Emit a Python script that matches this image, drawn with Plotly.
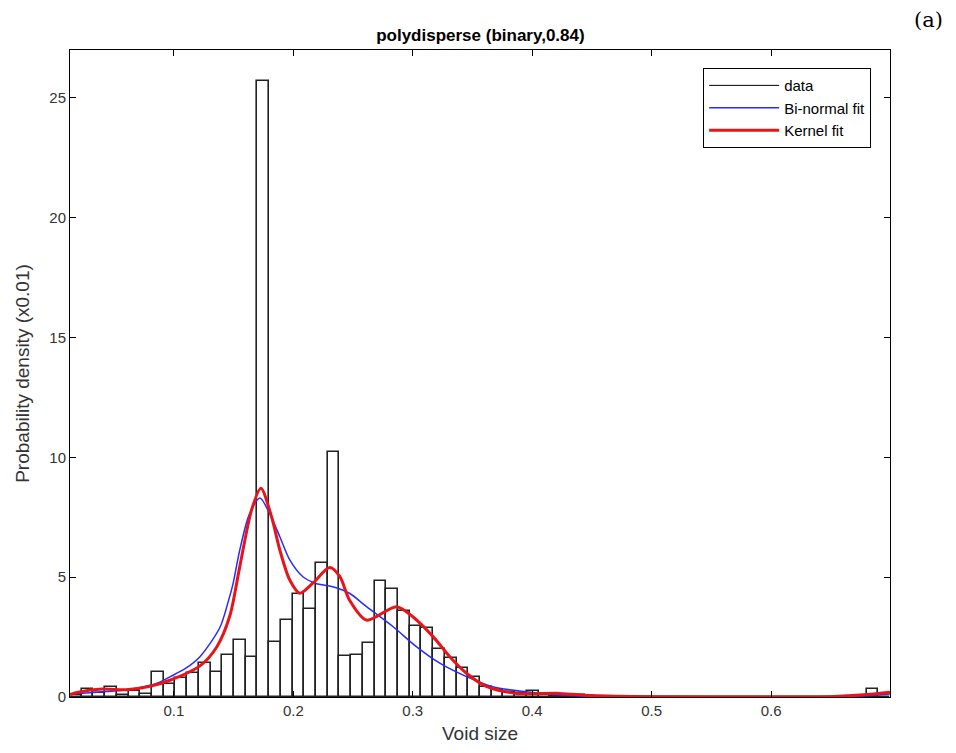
import plotly.graph_objects as go

# ---- data ----
x_min = 0.0130
x_max = 0.6996
n_bins = 70
bin_w = (x_max - x_min) / n_bins
bin_centers = [x_min + bin_w * (k + 0.5) for k in range(n_bins)]

counts = [0.1, 0.32, 0.18, 0.4, 0.1, 0.26, 0.12, 1.06, 0.55, 0.78,
          0.99, 1.43, 1.06, 1.75, 2.38, 1.66, 25.7, 2.31, 3.21, 4.28,
          3.66, 5.58, 10.22, 1.71, 1.77, 2.24, 4.86, 4.49, 3.58, 2.96,
          2.9, 2.0, 1.61, 1.2, 0.85, 0.4, 0.3, 0.2, 0.15, 0.25,
          0.1, 0.05, 0.0, 0.1, 0.0, 0.0, 0.0, 0.0, 0.0, 0.0,
          0.0, 0.0, 0.0, 0.0, 0.0, 0.0, 0.0, 0.0, 0.0, 0.0,
          0.0, 0.0, 0.0, 0.0, 0.0, 0.0, 0.0, 0.0, 0.35, 0.0]

binorm_x = [0.013, 0.03, 0.05, 0.07, 0.085, 0.097, 0.11, 0.1218, 0.1385, 0.1456,
            0.1494, 0.155, 0.163, 0.172, 0.180, 0.1887, 0.197, 0.208, 0.219, 0.233,
            0.247, 0.2613, 0.2836, 0.303, 0.3226, 0.345, 0.367, 0.395, 0.423, 0.45,
            0.5, 0.6, 0.66, 0.69, 0.6996]
binorm_y = [0.12, 0.18, 0.25, 0.38, 0.55, 0.85, 1.2, 1.68, 2.9, 4.0,
            4.7, 6.1, 7.6, 8.3, 7.67, 6.69, 5.72, 5.02, 4.74, 4.6,
            4.33, 3.77, 2.93, 2.1, 1.41, 0.85, 0.43, 0.22, 0.08, 0.03,
            0.0, 0.0, 0.02, 0.08, 0.12]

kernel_x = [0.013, 0.02, 0.04, 0.06, 0.08, 0.0967, 0.1218, 0.136, 0.1469, 0.155,
            0.165, 0.1728, 0.1817, 0.1887, 0.197, 0.2054, 0.2163, 0.2305, 0.239, 0.247,
            0.2613, 0.2863, 0.3, 0.317, 0.331, 0.345, 0.362, 0.387, 0.423, 0.45,
            0.5, 0.6, 0.65, 0.68, 0.6996]
kernel_y = [0.1, 0.2, 0.33, 0.3, 0.45, 0.7, 1.3, 2.1, 3.4, 5.4,
            7.8, 8.71, 7.53, 6.13, 4.88, 4.33, 4.75, 5.4, 5.02, 4.05,
            3.21, 3.77, 3.35, 2.52, 1.68, 0.99, 0.43, 0.15, 0.15, 0.06,
            0.01, 0.0, 0.01, 0.1, 0.2]

x_ticks = [0.1, 0.2, 0.3, 0.4, 0.5, 0.6]
y_ticks = [0, 5, 10, 15, 20, 25]

FONT = "Liberation Sans, Arial, sans-serif"

fig = go.Figure()
fig.add_trace(go.Bar(x=bin_centers, y=counts, width=bin_w,
                     marker=dict(color="white", line=dict(color="#222", width=1.6)),
                     showlegend=False, name="data"))
fig.add_trace(go.Scatter(x=[None], y=[None], mode="lines", name="data",
                         line=dict(color="black", width=1)))
fig.add_trace(go.Scatter(x=binorm_x, y=binorm_y, mode="lines", name="Bi-normal fit",
                         line=dict(color="#2a2aff", width=1.5, shape="spline", smoothing=0.8)))
fig.add_trace(go.Scatter(x=kernel_x, y=kernel_y, mode="lines", name="Kernel fit",
                         line=dict(color="#e8141a", width=3, shape="spline", smoothing=0.8)))

axis_common = dict(showline=True, linecolor="black", linewidth=1, mirror="ticks",
                   ticks="inside", ticklen=6, tickcolor="black", showgrid=False,
                   zeroline=False, tickfont=dict(family=FONT, size=15, color="#333"))

fig.update_xaxes(range=[x_min, x_max], tickvals=x_ticks,
                 title=dict(text="Void size", font=dict(family=FONT, size=19, color="#333"),
                            standoff=8),
                 **axis_common)
fig.update_yaxes(range=[0, 27], tickvals=y_ticks,
                 title=dict(text="Probability density (x0.01)",
                            font=dict(family=FONT, size=19, color="#333"), standoff=14),
                 **axis_common)

fig.update_layout(
    width=956, height=753,
    margin=dict(l=70, r=66, t=50, b=56),
    paper_bgcolor="white", plot_bgcolor="white",
    bargap=0,
    title=dict(text="<b>polydisperse (binary,0.84)</b>", x=0.5025, xanchor="center",
               y=1 - 35 / 753, yanchor="middle",
               font=dict(family=FONT, size=17, color="black")),
    legend=dict(x=0.977, xanchor="right", y=0.972, yanchor="top",
                bgcolor="white", bordercolor="black", borderwidth=1,
                font=dict(family=FONT, size=15, color="black"),
                tracegroupgap=0, itemwidth=70),
    annotations=[dict(text="(a)", x=(928 - 70) / 820, y=(697 - 20) / 647,
                      xref="paper", yref="paper", showarrow=False,
                      xanchor="center", yanchor="middle",
                      font=dict(family="DejaVu Serif, serif", size=21, color="black"))],
)

fig.write_html("out.html")
